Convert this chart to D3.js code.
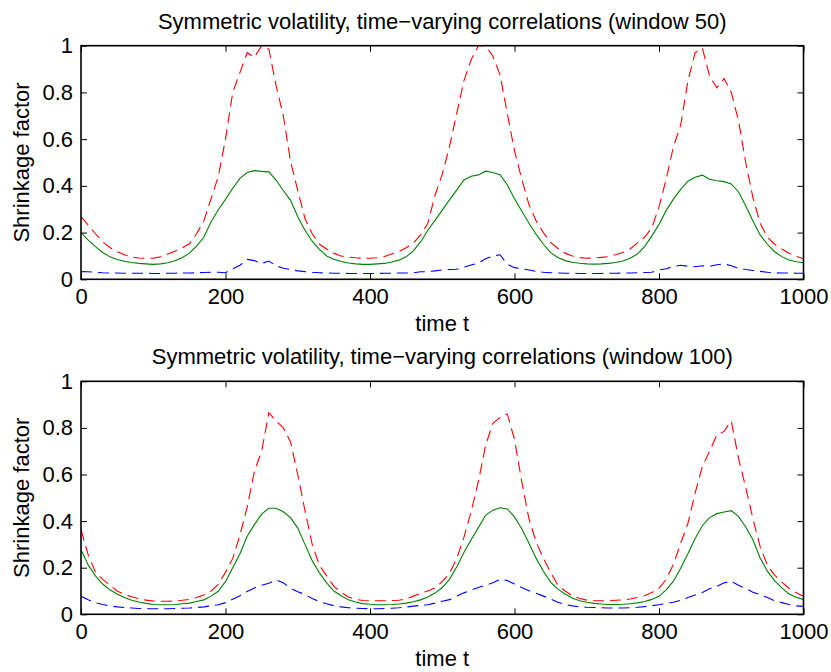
<!DOCTYPE html>
<html>
<head>
<meta charset="utf-8">
<script src="https://cdn.jsdelivr.net/npm/d3@7"></script>
<style>
body { margin: 0; background: #fff; }
svg text { font-family: "Liberation Sans", Arial, Helvetica, sans-serif; fill: #000; }
</style>
</head>
<body>
<svg width="831" height="672"></svg>
<script>
// sample every 10 time steps, t = 0..1000
var step = 10;
var xTicks = [0, 200, 400, 600, 800, 1000];
var yTicks = [0, 0.2, 0.4, 0.6, 0.8, 1];
var titles = ['Symmetric volatility, time\u2212varying correlations (window 50)',
              'Symmetric volatility, time\u2212varying correlations (window 100)'];

// window 50
var red50 = [.268,.232,.195,.160,.136,.118,.105,.096,.091,.090,
  .090,.096,.108,.120,.135,.152,.195,.250,.345,.440,
  .600,.800,.885,.970,.950,1.0,.985,.830,.700,.505,
  .380,.260,.195,.150,.130,.112,.100,.095,.092,.090,
  .090,.092,.098,.108,.118,.135,.155,.190,.240,.360,
  .450,.568,.710,.850,.940,1.0,1.0,.955,.875,.710,
  .550,.430,.320,.250,.200,.158,.132,.112,.100,.093,
  .090,.091,.094,.097,.105,.115,.130,.155,.180,.220,
  .310,.430,.568,.660,.850,.970,.990,.870,.820,.860,
  .800,.680,.500,.350,.240,.180,.150,.130,.112,.098,
  .088];
var green50 = [.200,.168,.140,.115,.096,.085,.077,.072,.068,.066,
  .064,.066,.071,.079,.092,.112,.142,.180,.245,.298,
  .342,.390,.432,.457,.465,.462,.460,.425,.380,.338,
  .268,.210,.163,.128,.100,.086,.076,.070,.066,.064,
  .064,.066,.068,.074,.082,.096,.122,.160,.210,.252,
  .296,.340,.382,.425,.441,.447,.463,.457,.448,.405,
  .345,.292,.240,.192,.150,.114,.093,.080,.073,.069,
  .066,.065,.066,.068,.072,.078,.090,.108,.140,.185,
  .235,.295,.343,.385,.420,.437,.446,.428,.422,.418,
  .408,.375,.315,.250,.190,.150,.118,.097,.083,.075,
  .071];
var blue50 = [.033,.032,.030,.028,.027,.027,.026,.026,.026,.026,
  .025,.025,.026,.026,.027,.027,.028,.029,.030,.030,
  .028,.045,.060,.085,.080,.068,.078,.058,.047,.042,
  .036,.033,.030,.028,.027,.026,.026,.025,.025,.025,
  .025,.025,.026,.026,.027,.027,.028,.032,.033,.036,
  .040,.042,.043,.052,.061,.070,.088,.100,.105,.065,
  .050,.045,.040,.034,.030,.028,.027,.026,.026,.025,
  .025,.025,.025,.026,.026,.027,.027,.028,.029,.030,
  .040,.045,.055,.060,.056,.054,.058,.055,.062,.066,
  .058,.047,.042,.038,.034,.030,.028,.027,.027,.026,
  .026];

// window 100
var red100 = [.363,.255,.180,.150,.125,.100,.086,.075,.067,.061,
  .057,.056,.056,.057,.060,.064,.072,.083,.100,.128,
  .180,.240,.340,.460,.614,.700,.865,.830,.800,.740,
  .600,.445,.300,.210,.165,.120,.095,.074,.064,.059,
  .058,.058,.058,.059,.060,.066,.078,.090,.100,.113,
  .140,.175,.240,.330,.442,.570,.725,.820,.845,.860,
  .750,.570,.410,.310,.240,.180,.125,.100,.080,.068,
  .061,.058,.058,.058,.060,.062,.066,.072,.080,.093,
  .112,.150,.215,.305,.390,.520,.635,.700,.770,.785,
  .830,.670,.545,.410,.290,.210,.168,.138,.112,.092,
  .077];
var green100 = [.277,.212,.165,.130,.105,.087,.072,.060,.053,.047,
  .042,.041,.041,.042,.045,.048,.055,.062,.078,.099,
  .140,.200,.260,.335,.385,.430,.455,.455,.440,.415,
  .370,.300,.230,.178,.135,.100,.080,.062,.053,.046,
  .043,.041,.041,.042,.044,.048,.054,.062,.074,.091,
  .115,.150,.203,.265,.320,.372,.425,.447,.457,.452,
  .418,.367,.305,.240,.185,.138,.108,.087,.070,.058,
  .052,.047,.044,.042,.042,.043,.045,.049,.055,.064,
  .077,.105,.142,.198,.260,.325,.380,.415,.432,.439,
  .445,.420,.375,.320,.242,.185,.145,.113,.087,.073,
  .063];
var blue100 = [.077,.062,.050,.042,.036,.032,.029,.027,.025,.024,
  .024,.024,.024,.025,.026,.027,.029,.032,.036,.041,
  .050,.065,.080,.098,.113,.125,.133,.148,.135,.112,
  .097,.085,.068,.055,.045,.037,.032,.028,.026,.025,
  .024,.024,.025,.026,.028,.031,.035,.038,.041,.048,
  .056,.063,.078,.092,.104,.115,.125,.135,.150,.145,
  .130,.115,.101,.090,.078,.066,.052,.042,.036,.032,
  .030,.029,.028,.027,.027,.027,.028,.030,.033,.037,
  .041,.046,.052,.060,.072,.083,.094,.110,.120,.135,
  .142,.125,.110,.095,.084,.072,.058,.050,.042,.036,
  .034];

var svg = d3.select('svg');
var left = 81, right = 803.5;
var panels = [
  {top: 45.7, bottom: 279.3, title: titles[0], red: red50, green: green50, blue: blue50},
  {top: 381.3, bottom: 614.3, title: titles[1], red: red100, green: green100, blue: blue100}
];

var x = d3.scaleLinear().domain([0, 1000]).range([left, right]);

panels.forEach(function(p, i){
  var y = d3.scaleLinear().domain([0, 1]).range([p.bottom, p.top]);
  var g = svg.append('g');

  g.append('clipPath').attr('id', 'clip' + i)
    .append('rect').attr('x', left).attr('y', p.top - 1)
    .attr('width', right - left).attr('height', p.bottom - p.top + 1);

  var line = d3.line()
    .x(function(d, k){ return x(k * step); })
    .y(function(d){ return y(d); });

  var series = [
    {v: p.red, c: '#ff0000', dash: '11,6'},
    {v: p.green, c: '#008000', dash: null},
    {v: p.blue, c: '#0000ff', dash: '11,6'}
  ];
  series.forEach(function(s){
    g.append('path')
      .datum(s.v)
      .attr('d', line)
      .attr('fill', 'none')
      .attr('stroke', s.c)
      .attr('stroke-width', 1.1)
      .attr('stroke-dasharray', s.dash)
      .attr('clip-path', 'url(#clip' + i + ')');
  });

  // axes, ticks point inward (matlab style)
  var ax = g.append('g').attr('transform', 'translate(0,' + p.bottom + ')')
    .call(d3.axisBottom(x).tickValues(xTicks).tickSize(-6).tickPadding(12).tickFormat(d3.format('d')));
  var axTop = g.append('g').attr('transform', 'translate(0,' + p.top + ')')
    .call(d3.axisTop(x).tickValues(xTicks).tickSize(-6).tickFormat(''));
  var ay = g.append('g').attr('transform', 'translate(' + left + ',0)')
    .call(d3.axisLeft(y).tickValues(yTicks).tickSize(-6).tickPadding(8).tickFormat(function(d){ return d3.format('')(d); }));
  var ayRight = g.append('g').attr('transform', 'translate(' + right + ',0)')
    .call(d3.axisRight(y).tickValues(yTicks).tickSize(-6).tickFormat(''));

  [ax, axTop, ay, ayRight].forEach(function(a){
    a.select('.domain').remove();
    a.selectAll('line').attr('stroke', '#000').attr('stroke-width', 1);
    a.selectAll('text').style('font-size', '22px').attr('fill', '#000');
  });
  ax.selectAll('text').attr('dy', '0.6em');

  g.append('rect')
    .attr('x', left).attr('y', p.top)
    .attr('width', right - left).attr('height', p.bottom - p.top)
    .attr('fill', 'none').attr('stroke', '#000').attr('stroke-width', 1.6);

  g.append('text')
    .attr('x', (left + right) / 2).attr('y', p.top - 17)
    .attr('text-anchor', 'middle').style('font-size', '22px')
    .text(p.title);

  g.append('text')
    .attr('x', (left + right) / 2).attr('y', p.bottom + 52)
    .attr('text-anchor', 'middle').style('font-size', '22px')
    .text('time t');

  g.append('text')
    .attr('transform', 'translate(29,' + (p.top + p.bottom) / 2 + ') rotate(-90)')
    .attr('text-anchor', 'middle').style('font-size', '22px')
    .text('Shrinkage factor');
});
</script>
</body>
</html>
